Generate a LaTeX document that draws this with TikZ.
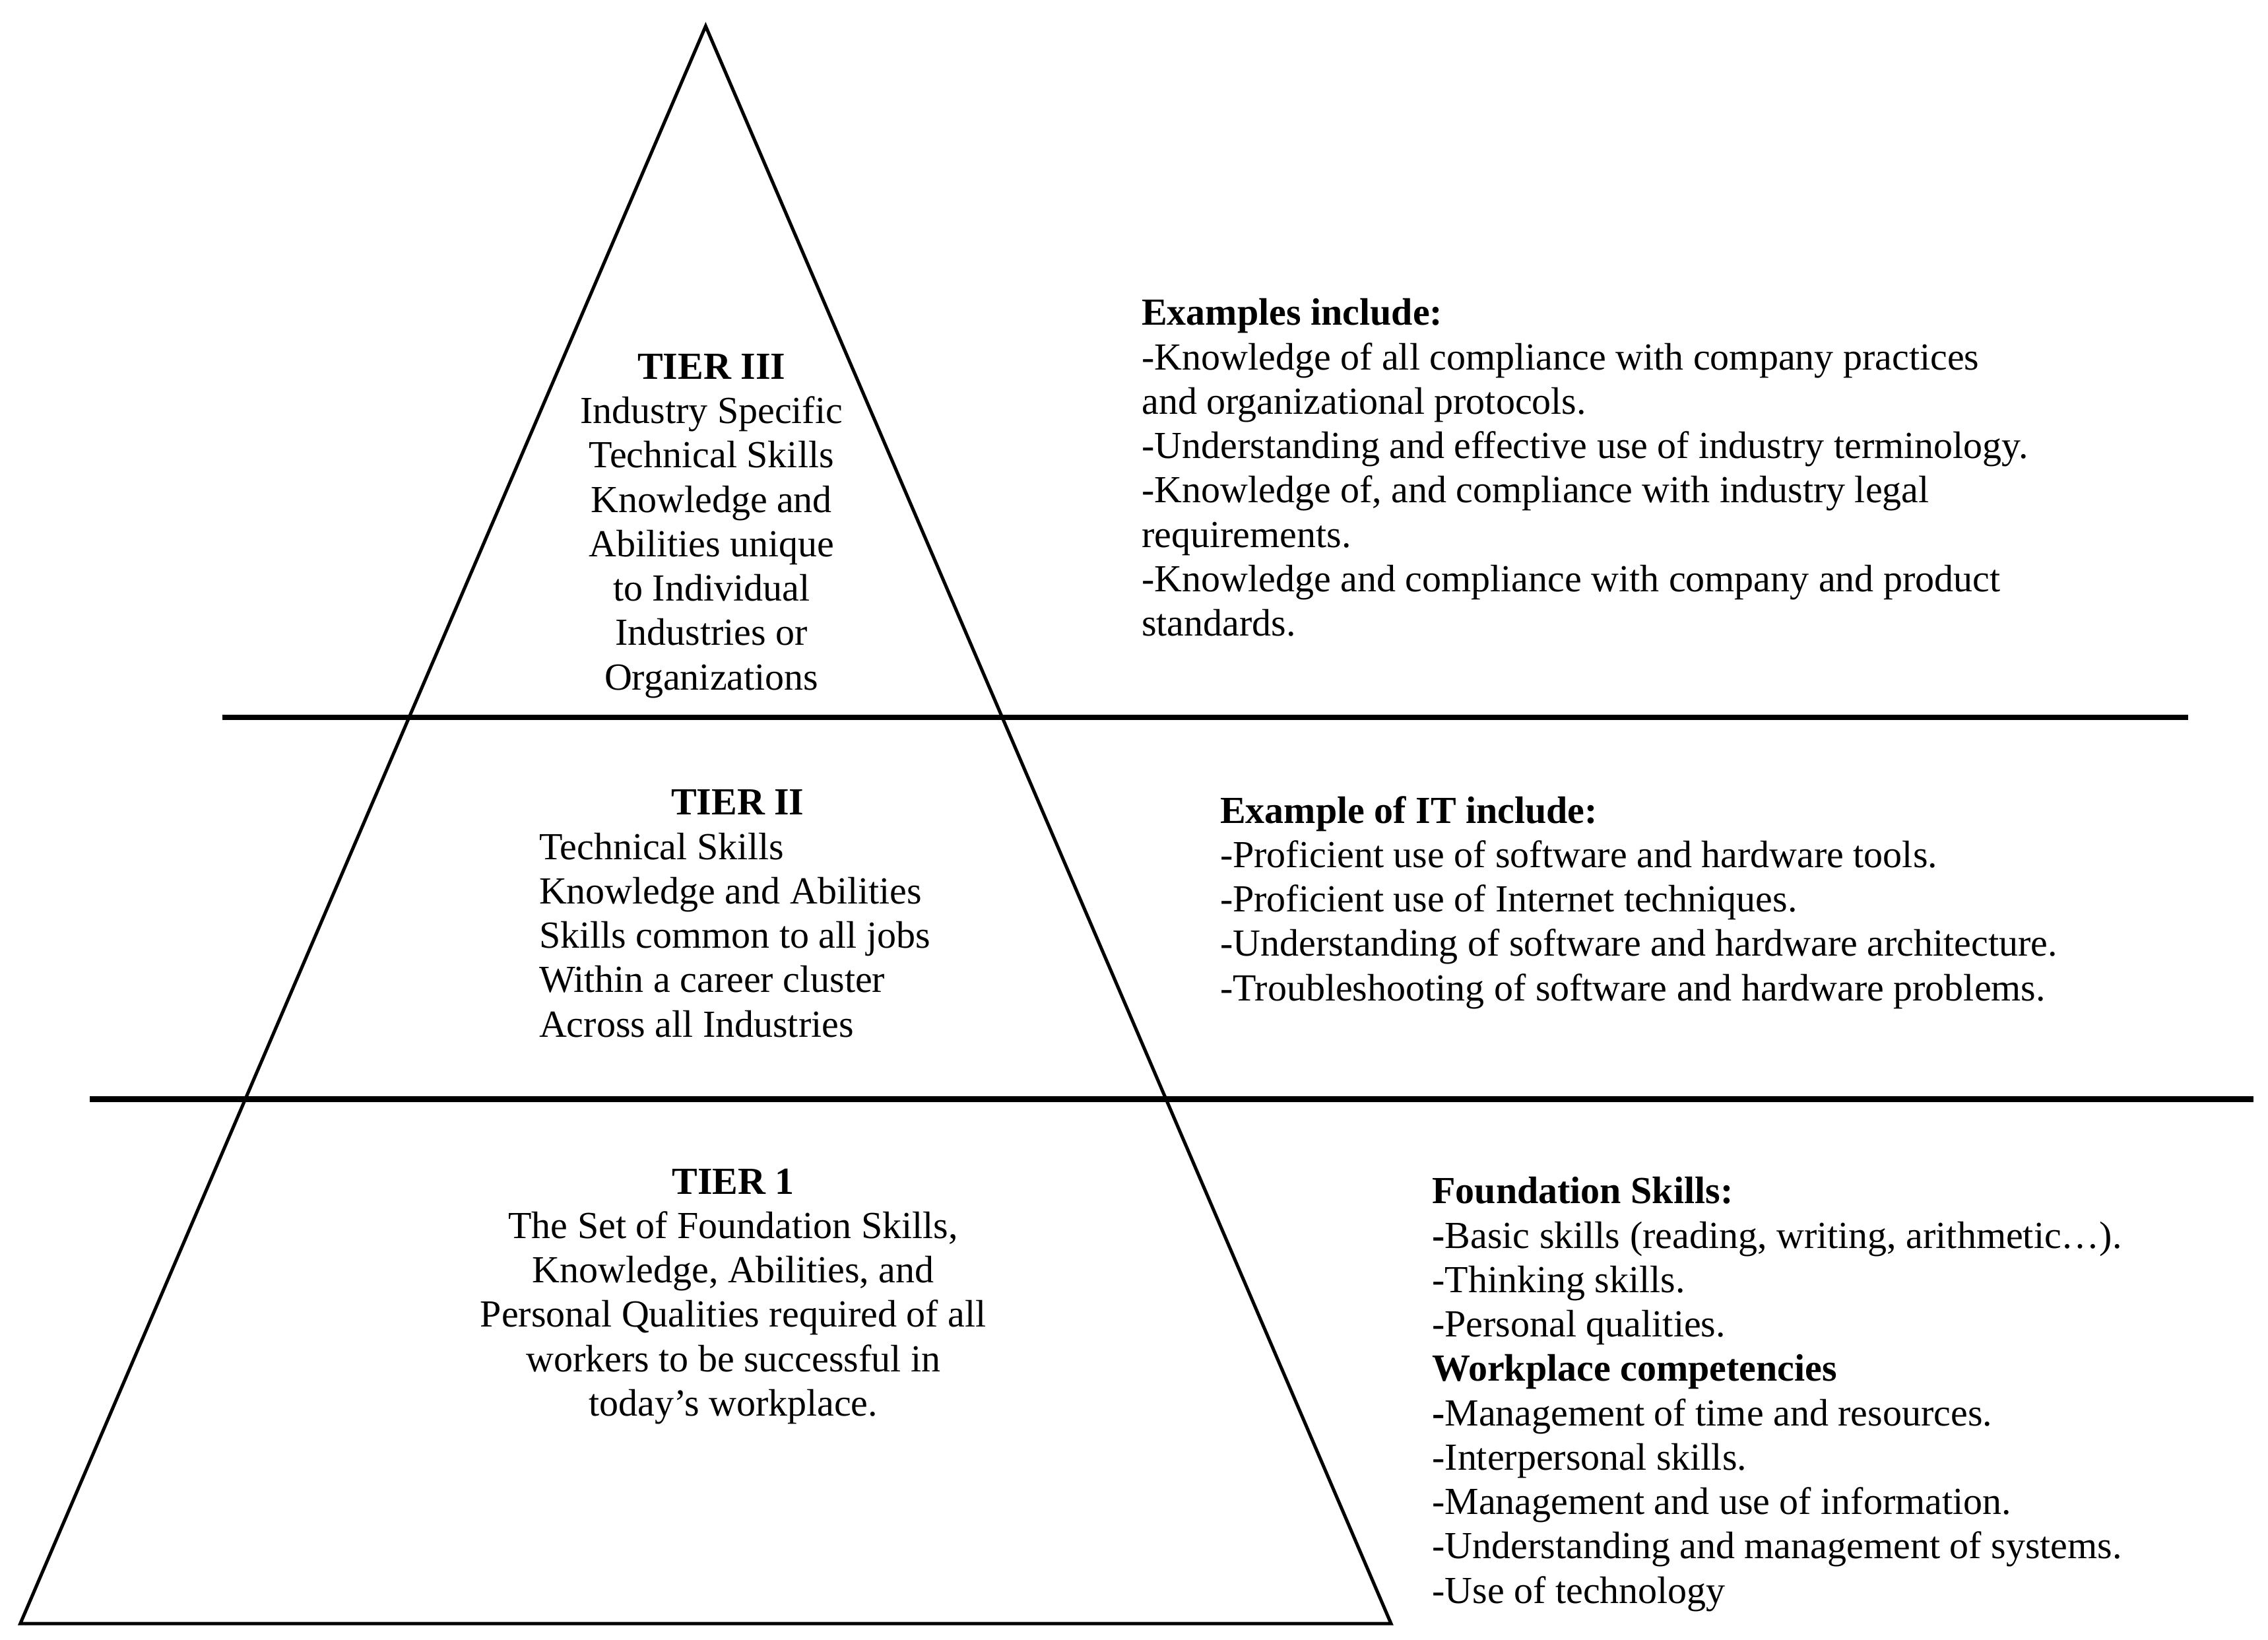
\documentclass[tikz,border=0pt]{standalone}
\usepackage{fontspec}
\setmainfont{Liberation Serif}
\begin{document}
\begin{tikzpicture}[x=0.02cm,y=-0.02cm,
  txt/.style={inner sep=0pt,font=\fontsize{15}{17.4}\selectfont},
  sep/.style={line width=2.2pt}]
\useasboundingbox (0,0) rectangle (1562,1129);
\coordinate (apex) at (486,18);
\coordinate (bl) at (14,1118);
\coordinate (br) at (958,1118);
\draw[line width=1.3pt,line join=miter] (apex) -- (bl) -- (br) -- cycle;
\coordinate (a1) at (153,494); \coordinate (a2) at (1507,494);
\coordinate (b1) at (62,757); \coordinate (b2) at (1552,757);
\draw[sep] (a1) -- (a2);
\draw[sep] (b1) -- (b2);
\node[txt,align=center,anchor=base] (t3) at (490,475) {\textbf{TIER III}\\Industry Specific\\Technical Skills\\Knowledge and\\Abilities unique\\to Individual\\Industries or\\Organizations};
\node[txt,align=center,anchor=base] (t2h) at (508,561) {\textbf{TIER II}};
\node[txt,align=left,anchor=base west] (t2) at (371,714) {Technical Skills\\Knowledge and Abilities\\Skills common to all jobs\\Within a career cluster\\Across all Industries};
\node[txt,align=center,anchor=base] (t1) at (505,975) {\textbf{TIER 1}\\The Set of Foundation Skills,\\Knowledge, Abilities, and\\Personal Qualities required of all\\workers to be successful in\\today’s workplace.};
\node[txt,align=left,anchor=base west] (r3) at (786,438) {\textbf{Examples include:}\\-Knowledge of all compliance with company practices\\and organizational protocols.\\-Understanding and effective use of industry terminology.\\-Knowledge of, and compliance with industry legal\\requirements.\\-Knowledge and compliance with company and product\\standards.};
\node[txt,align=left,anchor=base west] (r2) at (840,689) {\textbf{Example of IT include:}\\-Proficient use of software and hardware tools.\\-Proficient use of Internet techniques.\\-Understanding of software and hardware architecture.\\-Troubleshooting of software and hardware problems.};
\node[txt,align=left,anchor=base west] (r1) at (986,1104) {\textbf{Foundation Skills:}\\\textbf{-}Basic skills (reading, writing, arithmetic…).\\-Thinking skills.\\-Personal qualities.\\\textbf{Workplace competencies}\\\textbf{-}Management of time and resources.\\-Interpersonal skills.\\-Management and use of information.\\-Understanding and management of systems.\\-Use of technology};
\end{tikzpicture}
\end{document}
